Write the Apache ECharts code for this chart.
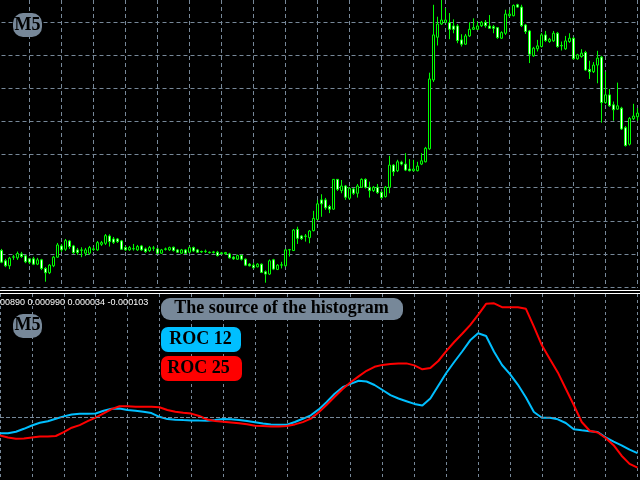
<!DOCTYPE html>
<html><head><meta charset="utf-8">
<script src="https://cdn.jsdelivr.net/npm/echarts@6/dist/echarts.min.js"></script>
<style>html,body{margin:0;padding:0;background:#000;}#c{width:640px;height:480px;}</style>
</head><body><div id="c"></div>
<script>
// ---- price pane (M5 candles) ----
const openPrice = [
1.10110,1.10079,1.10064,1.10090,1.10088,1.10100,1.10094,1.10085,1.10085,1.10069,
1.10082,1.10056,1.10043,1.10064,1.10090,1.10124,1.10114,1.10139,1.10124,1.10112,
1.10112,1.10102,1.10102,1.10113,1.10112,1.10129,1.10132,1.10154,1.10145,1.10145,
1.10139,1.10119,1.10112,1.10115,1.10112,1.10124,1.10115,1.10110,1.10117,1.10115,
1.10102,1.10115,1.10112,1.10120,1.10112,1.10102,1.10112,1.10105,1.10119,1.10112,
1.10107,1.10107,1.10105,1.10104,1.10105,1.10103,1.10100,1.10100,1.10090,1.10084,
1.10095,1.10084,1.10069,1.10066,1.10061,1.10069,1.10046,1.10039,1.10082,1.10053,
1.10066,1.10064,1.10112,1.10110,1.10174,1.10154,1.10154,1.10149,1.10170,1.10204,
1.10263,1.10263,1.10243,1.10235,1.10325,1.10291,1.10305,1.10268,1.10296,1.10283,
1.10301,1.10325,1.10301,1.10291,1.10301,1.10286,1.10273,1.10301,1.10368,1.10351,
1.10377,1.10371,1.10356,1.10351,1.10351,1.10371,1.10378,1.10417,1.10625,1.10754,
1.10794,1.10799,1.10798,1.10788,1.10788,1.10746,1.10733,1.10758,1.10778,1.10778,
1.10789,1.10799,1.10788,1.10786,1.10783,1.10751,1.10766,1.10819,1.10819,1.10852,
1.10845,1.10791,1.10773,1.10698,1.10719,1.10726,1.10761,1.10741,1.10743,1.10766,
1.10729,1.10719,1.10741,1.10751,1.10689,1.10696,1.10708,1.10657,1.10650,1.10670,
1.10694,1.10557,1.10580,1.10550,1.10537,1.10540,1.10481,1.10431,1.10508,1.10514];
const closePrice = [
1.10075,1.10064,1.10087,1.10091,1.10101,1.10092,1.10076,1.10075,1.10069,1.10082,
1.10056,1.10043,1.10066,1.10090,1.10127,1.10112,1.10140,1.10122,1.10104,1.10104,
1.10111,1.10112,1.10119,1.10115,1.10134,1.10134,1.10155,1.10137,1.10135,1.10137,
1.10114,1.10112,1.10119,1.10116,1.10122,1.10112,1.10107,1.10119,1.10118,1.10102,
1.10112,1.10114,1.10119,1.10110,1.10105,1.10112,1.10102,1.10119,1.10109,1.10105,
1.10106,1.10108,1.10104,1.10106,1.10095,1.10101,1.10104,1.10088,1.10085,1.10095,
1.10084,1.10066,1.10064,1.10058,1.10069,1.10044,1.10039,1.10079,1.10054,1.10066,
1.10067,1.10112,1.10113,1.10172,1.10147,1.10146,1.10153,1.10169,1.10207,1.10251,
1.10251,1.10239,1.10235,1.10325,1.10295,1.10305,1.10271,1.10298,1.10283,1.10305,
1.10325,1.10301,1.10291,1.10301,1.10285,1.10270,1.10301,1.10368,1.10348,1.10378,
1.10371,1.10353,1.10351,1.10356,1.10365,1.10381,1.10419,1.10628,1.10761,1.10794,
1.10806,1.10806,1.10778,1.10778,1.10744,1.10733,1.10758,1.10778,1.10783,1.10788,
1.10799,1.10789,1.10781,1.10781,1.10753,1.10768,1.10824,1.10824,1.10850,1.10845,
1.10789,1.10771,1.10703,1.10721,1.10728,1.10761,1.10744,1.10748,1.10766,1.10726,
1.10728,1.10743,1.10751,1.10689,1.10701,1.10706,1.10655,1.10650,1.10670,1.10691,
1.10557,1.10580,1.10547,1.10535,1.10547,1.10477,1.10427,1.10509,1.10516,1.10525];
const lowPrice = [
1.10072,1.10060,1.10054,1.10082,1.10082,1.10088,1.10072,1.10069,1.10066,1.10066,
1.10051,1.10016,1.10039,1.10060,1.10088,1.10106,1.10109,1.10115,1.10100,1.10097,
1.10090,1.10094,1.10097,1.10109,1.10109,1.10124,1.10127,1.10122,1.10130,1.10133,
1.10112,1.10109,1.10109,1.10110,1.10109,1.10109,1.10103,1.10106,1.10109,1.10100,
1.10100,1.10110,1.10109,1.10107,1.10103,1.10100,1.10100,1.10103,1.10106,1.10103,
1.10103,1.10103,1.10101,1.10101,1.10092,1.10098,1.10097,1.10086,1.10082,1.10082,
1.10080,1.10063,1.10062,1.10056,1.10059,1.10042,1.10013,1.10036,1.10051,1.10051,
1.10056,1.10062,1.10092,1.10109,1.10130,1.10142,1.10137,1.10132,1.10168,1.10202,
1.10212,1.10233,1.10223,1.10233,1.10290,1.10283,1.10263,1.10263,1.10278,1.10270,
1.10299,1.10297,1.10270,1.10287,1.10281,1.10266,1.10270,1.10283,1.10335,1.10347,
1.10367,1.10350,1.10349,1.10349,1.10349,1.10368,1.10376,1.10414,1.10619,1.10729,
1.10791,1.10797,1.10748,1.10766,1.10736,1.10726,1.10731,1.10755,1.10776,1.10776,
1.10785,1.10783,1.10779,1.10766,1.10749,1.10749,1.10761,1.10815,1.10817,1.10843,
1.10785,1.10764,1.10676,1.10695,1.10711,1.10723,1.10740,1.10737,1.10740,1.10722,
1.10714,1.10716,1.10737,1.10686,1.10686,1.10692,1.10653,1.10628,1.10646,1.10615,
1.10496,1.10553,1.10544,1.10502,1.10535,1.10474,1.10424,1.10427,1.10504,1.10502];
const highPrice = [
1.10115,1.10085,1.10091,1.10097,1.10107,1.10106,1.10097,1.10088,1.10091,1.10088,
1.10085,1.10060,1.10069,1.10094,1.10133,1.10130,1.10145,1.10142,1.10127,1.10118,
1.10120,1.10118,1.10124,1.10121,1.10139,1.10139,1.10160,1.10159,1.10151,1.10148,
1.10142,1.10124,1.10124,1.10130,1.10127,1.10127,1.10119,1.10124,1.10124,1.10118,
1.10115,1.10119,1.10122,1.10122,1.10115,1.10115,1.10115,1.10122,1.10122,1.10115,
1.10110,1.10113,1.10107,1.10109,1.10109,1.10106,1.10106,1.10103,1.10094,1.10098,
1.10098,1.10086,1.10072,1.10072,1.10072,1.10071,1.10050,1.10083,1.10085,1.10069,
1.10076,1.10115,1.10115,1.10175,1.10182,1.10157,1.10160,1.10172,1.10230,1.10263,
1.10280,1.10269,1.10248,1.10326,1.10326,1.10323,1.10308,1.10302,1.10300,1.10311,
1.10328,1.10328,1.10318,1.10305,1.10311,1.10290,1.10305,1.10396,1.10371,1.10384,
1.10381,1.10404,1.10386,1.10384,1.10378,1.10404,1.10423,1.10647,1.10852,1.10816,
1.10867,1.10842,1.10827,1.10808,1.10794,1.10763,1.10764,1.10799,1.10811,1.10801,
1.10803,1.10806,1.10821,1.10791,1.10785,1.10772,1.10837,1.10837,1.10853,1.10855,
1.10852,1.10794,1.10776,1.10725,1.10746,1.10767,1.10773,1.10752,1.10773,1.10770,
1.10741,1.10758,1.10766,1.10755,1.10704,1.10718,1.10713,1.10683,1.10679,1.10713,
1.10698,1.10650,1.10598,1.10560,1.10617,1.10544,1.10486,1.10513,1.10553,1.10540];
const bidPrice = 1.10833;
const priceMin = 1.100, priceMax = 1.108, priceStep = 0.001;

// ---- indicator pane (sampled every second bar) ----
const roc12 = [
-0.0326,-0.0326,-0.0294,-0.0236,-0.0170,-0.0116,-0.0084,-0.0034,0.0012,0.0050,
0.0064,0.0066,0.0070,0.0126,0.0164,0.0170,0.0138,0.0126,0.0104,0.0078,
0.0004,-0.0042,-0.0054,-0.0062,-0.0068,-0.0072,-0.0074,-0.0060,-0.0040,-0.0046,
-0.0060,-0.0082,-0.0106,-0.0130,-0.0150,-0.0154,-0.0154,-0.0100,-0.0036,0.0034,
0.0152,0.0300,0.0466,0.0596,0.0662,0.0724,0.0710,0.0640,0.0540,0.0438,
0.0370,0.0316,0.0262,0.0230,0.0370,0.0626,0.0880,0.1100,0.1310,0.1534,
0.1674,0.1620,0.1306,0.1040,0.0856,0.0644,0.0390,0.0100,-0.0014,-0.0014,
-0.0046,-0.0120,-0.0246,-0.0266,-0.0284,-0.0300,-0.0408,-0.0494,-0.0568,-0.0654,
-0.0724];
const roc25 = [
-0.0370,-0.0410,-0.0434,-0.0432,-0.0412,-0.0392,-0.0392,-0.0380,-0.0304,-0.0214,
-0.0162,-0.0084,-0.0014,0.0072,0.0158,0.0216,0.0216,0.0206,0.0206,0.0206,
0.0196,0.0140,0.0106,0.0084,0.0068,0.0020,-0.0050,-0.0080,-0.0096,-0.0108,
-0.0124,-0.0146,-0.0174,-0.0180,-0.0188,-0.0192,-0.0180,-0.0148,-0.0102,-0.0032,
0.0096,0.0246,0.0406,0.0560,0.0694,0.0812,0.0924,0.1004,0.1042,0.1058,
0.1072,0.1072,0.1032,0.0954,0.0978,0.1120,0.1316,0.1500,0.1666,0.1838,
0.2042,0.2264,0.2274,0.2196,0.2194,0.2194,0.2164,0.1806,0.1434,0.1160,
0.0892,0.0566,0.0240,-0.0100,-0.0274,-0.0310,-0.0420,-0.0564,-0.0774,-0.0938,
-0.1012];
const rocMin = -0.126, rocMax = 0.246, rocZero = 0;
const indicatorValuesText = '0.000890 0.000990 0.000034 -0.000103';
const labelTexts = ['M5', 'The source of the histogram', 'ROC 12', 'ROC 25'];

// ---- time categories (M5 bars) ----
const firstBar = Date.UTC(2021, 4, 12, 6, 0);
const fiveMin = 5 * 60 * 1000;
function hhmm(ms){const d=new Date(ms);return String(d.getUTCHours()).padStart(2,'0')+':'+String(d.getUTCMinutes()).padStart(2,'0');}
const barTimes = openPrice.map((_, i) => hhmm(firstBar + i * fiveMin));
const rocTimes = roc12.map((_, j) => hhmm(firstBar + (2 * j - 1) * fiveMin));

const candles = openPrice.map((o, i) => [o, closePrice[i], lowPrice[i], highPrice[i]]);

const GRID = '#778899';
const serifBold = 'bold 18px "Liberation Serif", "Times New Roman", serif';

function label(x, y, w, h, r, fill, text, tx, ty) {
  return [
    {type:'rect', z:100, shape:{x:x, y:y, width:w, height:h, r:r}, style:{fill:fill}},
    {type:'text', z:101, x:tx, y:ty, style:{text:text, font:serifBold, fill:'#000',
      textAlign:'center', textVerticalAlign:'middle', align:'center', verticalAlign:'middle'}}
  ];
}

const chart = echarts.init(document.getElementById('c'), null, {renderer:'canvas'});
chart.setOption({
  backgroundColor:'#000',
  animation:false,
  grid:[
    {left:1.5, width:636, top:0, height:288},
    {left:1.5, width:636, top:22, height:265},
    {left:-2.5, width:640, top:294, height:186}
  ],
  xAxis:[
    {gridIndex:0, type:'category', data:barTimes, boundaryGap:false,
     axisLine:{show:false}, axisTick:{show:false}, axisLabel:{show:false},
     splitLine:{show:true, interval:(i)=>i % 8 === 7, lineStyle:{color:GRID, width:1, type:[4,3]}}},
    {gridIndex:1, type:'category', data:barTimes, boundaryGap:false, show:false},
    {gridIndex:2, type:'category', data:rocTimes, boundaryGap:false,
     axisLine:{show:false}, axisTick:{show:false}, axisLabel:{show:false},
     splitLine:{show:true, interval:3, lineStyle:{color:GRID, width:1, type:[3,3]}}}
  ],
  yAxis:[
    {gridIndex:0, type:'value', min:0, max:1, show:false},
    {gridIndex:1, type:'value', min:priceMin, max:priceMax, interval:priceStep,
     axisLine:{show:false}, axisTick:{show:false}, axisLabel:{show:false},
     splitLine:{show:true, lineStyle:{color:GRID, width:1, type:[4,3]}}},
    {gridIndex:2, type:'value', min:rocMin, max:rocMax,
     axisLine:{show:false}, axisTick:{show:false}, axisLabel:{show:false}, splitLine:{show:false}}
  ],
  series:[
    {type:'candlestick', name:'M5', xAxisIndex:1, yAxisIndex:1, data:candles,
     barWidth:2, clip:false,
     itemStyle:{color:'#000000', color0:'#ffffff', borderColor:'#00ff00', borderColor0:'#00ff00', borderWidth:1},
     markLine:{silent:true, symbol:['none','none'], label:{show:false},
       lineStyle:{color:'#9ea4ac', type:'solid', width:1}, data:[{yAxis:bidPrice}]}},
    {type:'line', name:'ROC 12', xAxisIndex:2, yAxisIndex:2, data:roc12,
     symbol:'none', lineStyle:{color:'#00bfff', width:2}, itemStyle:{color:'#00bfff'},
     markLine:{silent:true, symbol:['none','none'], label:{show:false},
       lineStyle:{color:GRID, type:[4,2], width:1}, data:[{yAxis:rocZero}]}},
    {type:'line', name:'ROC 25', xAxisIndex:2, yAxisIndex:2, data:roc25,
     symbol:'none', lineStyle:{color:'#ff0000', width:2}, itemStyle:{color:'#ff0000'}}
  ],
  graphic:[
    {type:'line', z:90, shape:{x1:0, y1:290.5, x2:640, y2:290.5}, style:{stroke:'#ffffff', lineWidth:1}},
    {type:'line', z:90, shape:{x1:0, y1:293.5, x2:640, y2:293.5}, style:{stroke:'#ffffff', lineWidth:1}},
    {type:'text', z:101, x:-12.5, y:302.7, style:{text:indicatorValuesText, font:'9px "Liberation Sans", Arial, sans-serif',
      fill:'#ffffff', textAlign:'left', textVerticalAlign:'middle', align:'left', verticalAlign:'middle'}},
    ...label(13, 13, 29, 24, 10, '#778899', labelTexts[0], 27.5, 25.5),
    ...label(13, 314, 29, 24, 10, '#778899', labelTexts[0], 27.5, 325.8),
    ...label(161, 298, 242, 22, 9, '#778899', labelTexts[1], 281.5, 308),
    ...label(161, 327, 80, 25, 7, '#00bfff', labelTexts[2], 200.5, 339),
    ...label(161, 356, 81, 25, 7, '#ff0000', labelTexts[3], 198.5, 368.3)
  ]
});
</script></body></html>
